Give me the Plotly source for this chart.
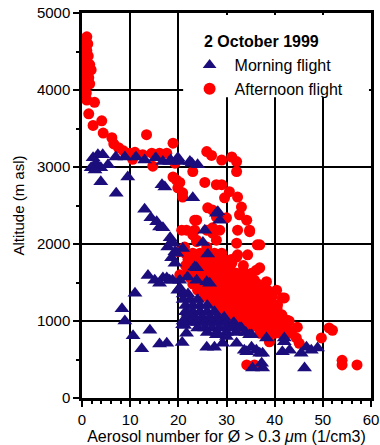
import plotly.graph_objects as go

# Morning flight: aerosol number (1/cm3) and altitude (m asl)
morning_x = [
    3.3, 4.3, 2.3, 2.9, 1.9, 3.9, 2.7, 5.4, 7.0, 8.9, 11.2, 13.0, 15.3, 16.8, 18.4, 19.9,
    18.2, 20.3, 22.4, 22.8, 24.0, 3.9, 9.5, 7.1, 17.2, 16.6, 23.0, 13.0, 14.3, 15.5,
    16.1, 16.8, 18.3, 17.8, 18.9, 19.3, 20.9, 25.5, 25.1, 26.1, 27.9, 28.2, 28.6, 18.6,
    18.6, 19.3, 19.7, 23.8, 23.4,
    13.7, 15.1, 16.8, 17.6, 18.2, 18.8, 20.3, 21.9, 23.8, 25.9, 16.1, 19.9, 20.3, 26.5, 11.0,
    8.3, 8.9, 10.6, 12.4, 14.1, 16.1, 17.6, 20.8, 21.3, 21.7, 20.9,
    21.0, 22.0, 21.0, 22.5, 24.0, 21.5, 23.0, 24.5, 26.0, 21.5, 23.0, 24.5, 26.0, 27.5,
    22.0, 23.5, 25.0, 26.5, 28.0, 29.5, 22.5, 24.0, 25.5, 27.0, 28.5, 30.0, 31.5,
    24.0, 25.5, 27.0, 28.5, 30.0, 31.5, 33.0, 26.0, 28.0, 30.0, 32.0, 34.0,
    25.9, 27.5, 27.9, 30.0, 29.2, 32.1, 31.3, 33.1, 35.2, 35.2, 33.7, 36.2, 37.5, 35.4,
    37.3, 37.5, 38.3, 42.0, 41.6, 43.1, 45.5, 46.6, 47.6, 48.9, 46.2, 34.2, 36.9, 32.7,
    34.8, 42.0, 22.0, 21.0,
]
morning_y = [
    3160, 3160, 3120, 3050, 2990, 2990, 2960, 3030, 3130, 3130, 3130, 3090, 3120, 3070, 3090, 3120,
    3070, 3070, 3070, 3050, 3030, 2810, 2870, 2660, 2740, 2770, 2600, 2450, 2340, 2290,
    2220, 2210, 2080, 1960, 2010, 1900, 1940, 2180, 2020, 1870, 2400, 2420, 2310, 2030,
    1820, 1750, 1880, 1690, 1700,
    1590, 1530, 1560, 1560, 1530, 1530, 1530, 1570, 1530, 1510, 1490, 1400, 1430, 1490, 1360,
    1160, 1000, 810, 640, 880, 700, 710, 720, 940, 840, 950,
    1350, 1350, 1280, 1280, 1280, 1200, 1200, 1200, 1200, 1120, 1120, 1120, 1120, 1120,
    1050, 1050, 1050, 1050, 1050, 1050, 980, 980, 980, 980, 980, 980, 980,
    910, 910, 910, 910, 910, 910, 910, 850, 850, 850, 850, 850,
    660, 660, 820, 800, 710, 710, 920, 910, 820, 660, 620, 620, 580, 390,
    450, 390, 780, 730, 600, 620, 580, 660, 620, 650, 390, 600, 580, 910,
    820, 780, 1100, 1000,
]

# Afternoon flight
afternoon_x = [
    1.0, 0.4, 1.2, 0.6, 1.0, 0.3, 1.3, 0.8, 1.6, 0.5, 1.9, 1.0, 0.3, 1.4, 0.9, 1.6, 0.4, 0.2,
    0.9, 0.3, 1.0, 2.6, 1.4, 4.1, 2.3, 4.4, 6.2, 6.6, 7.6, 8.6, 9.9, 13.4, 12.6, 14.5, 14.7,
    16.1, 17.6, 18.9, 19.3, 11.0, 10.5,
    18.9, 19.6, 19.9, 20.9, 23.0, 25.9, 26.9, 29.0, 31.1, 32.1, 32.1, 20.3, 25.5, 27.9, 29.0,
    30.6, 32.3, 29.6, 20.9, 33.1, 32.7, 34.2, 30.0, 26.1, 27.1, 27.9, 23.4, 23.8, 21.7, 23.4,
    27.1, 28.6, 32.3, 34.8, 23.0, 23.8, 25.9, 27.1, 23.8, 27.9, 32.1, 36.9, 21.3, 25.9, 36.4,
    32.3, 34.4, 36.9, 35.2, 35.8, 38.3, 38.5, 40.4, 41.6, 40.6, 38.3, 38.9, 35.4, 32.1, 31.1,
    32.7, 34.8, 37.5, 40.4, 42.4, 44.7, 51.3, 52.0, 49.7, 44.5, 45.1, 54.0, 54.0, 57.1, 34.2,
    35.8, 38.9, 41.0, 41.6, 42.6, 42.0, 36.2, 34.8, 32.1, 20.7, 20.3, 20.0,
    21.5, 23.0, 24.5, 26.0, 27.5, 29.0,
    22.0, 23.5, 25.0, 26.5, 28.0, 29.5, 31.0,
    21.5, 23.0, 24.5, 26.0, 27.5, 29.0, 30.5, 33.5,
    22.0, 23.5, 25.0, 26.5, 28.0, 29.5, 31.0, 33.5,
    22.5, 24.0, 25.5, 27.0, 28.5, 30.0, 31.5, 33.0, 34.5,
    23.0, 24.5, 26.0, 27.5, 29.0, 30.5, 32.0, 33.5, 35.0, 36.5,
    24.0, 25.5, 27.0, 28.5, 30.0, 31.5, 33.0, 34.5, 36.0, 37.5,
    25.5, 27.0, 28.5, 30.0, 31.5, 33.0, 34.5, 36.0, 37.5, 39.5,
    27.0, 28.5, 30.0, 31.5, 33.0, 34.5, 36.0, 37.5, 39.0,
    28.0, 29.5, 31.0, 32.5, 34.0, 35.5, 37.0, 38.5, 40.5,
    29.5, 31.0, 32.5, 34.0, 35.5, 37.0, 38.5, 40.0, 41.5,
    31.0, 32.5, 34.0, 35.5, 37.0, 38.5, 40.0, 41.5, 43.0,
    33.5, 35.0, 36.5, 38.0, 39.5, 41.0, 42.5,
    37.0, 38.5, 40.0, 42.0, 43.5,
]
afternoon_y = [
    4690, 4640, 4600, 4560, 4510, 4470, 4440, 4390, 4330, 4310, 4260, 4240, 4190, 4160, 4110, 4080, 4040, 3990,
    3960, 3920, 3870, 3840, 3690, 3600, 3540, 3440, 3380, 3300, 3250, 3210, 3180, 3420, 3160, 3180, 3010,
    3180, 3180, 3310, 3050, 3190, 3100,
    2870, 2830, 2730, 2610, 2940, 3200, 3150, 3090, 3130, 3070, 2940, 2800, 2800, 2770, 2770,
    2680, 2610, 2600, 2665, 2480, 2380, 2310, 2340, 2470, 2440, 2350, 2310, 2310, 2180, 2180,
    2210, 2180, 2180, 2180, 2120, 2030, 2180, 2140, 2050, 2050, 2010, 1990, 1960, 1960, 1990,
    1860, 1860, 1690, 1620, 1530, 1510, 1400, 1400, 1300, 1210, 1310, 1180, 1230, 1620, 1750,
    1360, 1050, 1100, 1050, 990, 920, 910, 880, 780, 780, 710, 490, 430, 430, 430,
    430, 730, 845, 920, 1010, 1300, 1660, 2160, 1830, 2180, 1600, 1900,
    1880, 1880, 1880, 1880, 1880, 1880,
    1800, 1800, 1800, 1800, 1800, 1800, 1800,
    1720, 1720, 1720, 1720, 1720, 1720, 1720, 1720,
    1640, 1640, 1640, 1640, 1640, 1640, 1640, 1640,
    1560, 1560, 1560, 1560, 1560, 1560, 1560, 1560, 1560,
    1480, 1480, 1480, 1480, 1480, 1480, 1480, 1480, 1480, 1480,
    1400, 1400, 1400, 1400, 1400, 1400, 1400, 1400, 1400, 1400,
    1320, 1320, 1320, 1320, 1320, 1320, 1320, 1320, 1320, 1320,
    1240, 1240, 1240, 1240, 1240, 1240, 1240, 1240, 1240,
    1160, 1160, 1160, 1160, 1160, 1160, 1160, 1160, 1160,
    1080, 1080, 1080, 1080, 1080, 1080, 1080, 1080, 1080,
    1000, 1000, 1000, 1000, 1000, 1000, 1000, 1000, 1000,
    920, 920, 920, 920, 920, 920, 920,
    840, 840, 840, 840, 840,
]

x_ticks = [0, 10, 20, 30, 40, 50, 60]
y_ticks = [0, 1000, 2000, 3000, 4000, 5000]

FONT = "Liberation Sans, Arial, Helvetica, sans-serif"
NAVY = "#1c0d7c"
RED = "#ff0000"

fig = go.Figure()
fig.add_trace(go.Scatter(
    x=afternoon_x, y=afternoon_y, mode="markers", name="Afternoon flight",
    marker=dict(symbol="circle", size=11, color=RED, line=dict(width=0)),
))
fig.add_trace(go.Scatter(
    x=morning_x, y=morning_y, mode="markers", name="Morning flight",
    marker=dict(symbol="triangle-up", size=13, color=NAVY, line=dict(width=0)),
))

axis_common = dict(
    showgrid=True, gridcolor="black", gridwidth=1.5,
    showline=True, linecolor="black", linewidth=2.5, mirror=True,
    ticks="outside", ticklen=6, tickwidth=1.5, tickcolor="black",
    zeroline=False, layer="above traces", automargin=False,
    ticklabeloverflow="allow",
    tickfont=dict(family=FONT, size=15, color="black"),
)

fig.update_layout(
    width=380, height=445,
    margin=dict(l=82, r=9, t=13, b=47),
    paper_bgcolor="white", plot_bgcolor="white",
    showlegend=True,
    legend=dict(
        x=0.355, y=0.909, xanchor="left", yanchor="top",
        bgcolor="rgba(0,0,0,0)", borderwidth=0,
        traceorder="reversed",
        font=dict(family=FONT, size=16, color="black"),
        itemsizing="constant", itemwidth=40, tracegroupgap=0,
    ),
    annotations=[dict(
        text="<b>2 October 1999</b>", xref="paper", yref="paper",
        x=0.416, y=0.925, xanchor="left", yanchor="middle", showarrow=False,
        font=dict(family=FONT, size=16, color="black"),
    )],
    xaxis=dict(
        range=[0, 60], tickvals=x_ticks, ticktext=[str(v) for v in x_ticks],
        minor=dict(dtick=2, ticks="outside", ticklen=3, tickcolor="black", showgrid=False),
        title=dict(text="Aerosol number for Ø > 0.3 <i>μ</i>m (1/cm3)",
                   font=dict(family=FONT, size=16, color="black"), standoff=4),
        **axis_common,
    ),
    yaxis=dict(
        range=[0, 5000], tickvals=y_ticks, ticktext=[str(v) for v in y_ticks],
        minor=dict(dtick=500, ticks="outside", ticklen=3, tickcolor="black", showgrid=False),
        title=dict(text="Altitude (m asl)",
                   font=dict(family=FONT, size=15, color="black"), standoff=9),
        **axis_common,
    ),
    shapes=[dict(
        type="rect", xref="paper", yref="paper", layer="above",
        x0=0.35, x1=0.993, y0=0.781, y1=0.995,
        fillcolor="white", line=dict(width=0),
    )],
)

fig.write_html("out.html")
